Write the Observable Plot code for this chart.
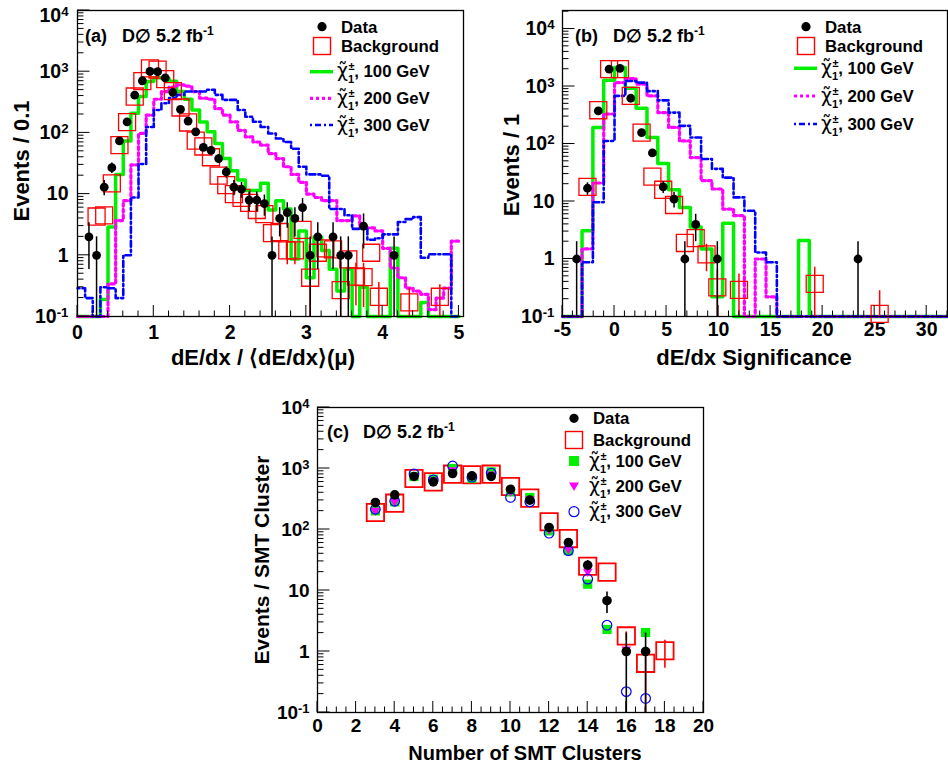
<!DOCTYPE html>
<html><head><meta charset="utf-8">
<script src="https://cdn.jsdelivr.net/npm/d3@7"></script>
<script src="https://cdn.jsdelivr.net/npm/@observablehq/plot@0.6"></script>
<style>
body{margin:0;background:#fff;}
#root{position:relative;width:948px;height:768px;overflow:hidden;background:#fff;}
</style></head>
<body><div id="root"></div>
<script>
// ---------------- DATA ----------------
// Panel (a): dE/dx / <dE/dx>(mu), bins of 0.1
const aEdges = [0,0.1,0.2,0.3,0.4,0.5,0.6,0.7,0.8,0.9,1,1.1,1.2,1.3,1.4,1.5,1.6,1.7,1.8,1.9,2,2.1,2.2,2.3,2.4,2.5,2.6,2.7,2.8,2.9,3,3.1,3.2,3.3,3.4,3.5,3.6,3.7,3.8,3.9,4,4.1,4.2,4.3,4.4,4.5,4.6,4.7,4.8,4.9,5];
const aSig100 = [0,0,0,0.19,2.9,21,74,210,393,690,800,780,700,474,355,237,151,104,67,38,24,17,11.4,11.4,15,5.5,7.8,5.7,0.87,2.5,0.43,2,1.2,0.59,0.26,0.6,0,0.3,0,0,0,1.3,0,0,0,0.17,0,0,0,0];
const aSig200 = [0,0,0,0,0.34,3.7,7.8,30,98,195,355,474,560,610,580,474,370,355,250,195,151,110,86,71,63,46,38,28,21,15.6,10,8.8,7.8,7.8,3.7,3.7,4.4,2.8,2.8,2.5,1.3,0.62,0.43,0.29,0.26,0.23,0.13,0.2,0.29,1.7];
const aSig300 = [0.29,0.2,0,0.3,0.29,0.2,1.0,8.8,31,125,237,305,370,418,474,474,474,506,418,346,346,237,184,152,125,98,81,71,55,28,21,21,20,5.7,5.7,4.5,2.7,2.7,1.8,1.9,2.2,2.2,3.5,3.9,4.2,0.91,1.04,1.04,1.04,0];
const aDataX = [0.15,0.25,0.35,0.45,0.55,0.65,0.75,0.85,0.95,1.05,1.15,1.25,1.35,1.45,1.55,1.65,1.75,1.85,1.95,2.05,2.15,2.25,2.35,2.45,2.55,2.65,2.75,2.85,2.95,3.05,3.15,3.35,3.45,3.55,3.75,4.15];
const aDataY = [2,1,13,27,74,151,413,711,1010,1000,790,457,243,156,104,58,52,38,23,13,12,8,8,7,1,4,5,4,6,1,2,2,1,1,3,1];
const aBgX = [0.25,0.35,0.45,0.55,0.65,0.75,0.85,0.95,1.05,1.15,1.25,1.35,1.45,1.55,1.65,1.75,1.85,1.95,2.05,2.15,2.25,2.35,2.45,2.55,2.65,2.75,2.85,2.95,3.05,3.15,3.25,3.35,3.45,3.55,3.65,3.75,3.85,3.95,4.35,4.75];
const aBgY = [4.3,4.5,15,63,150,393,700,1130,1080,755,480,260,148,75,60,40,20,14,10,8.7,7.2,5.5,4.7,2.3,2.4,1.2,1.2,2.6,0.43,1.1,1.3,1.25,0.27,0.86,0.45,0.44,1.1,0.21,0.17,0.21];
const aBgErr = [0,0,0,0,0,0,0,0,0,0,0,0,0,0,0,0,0,0,0,0,0,0,0,0,0,0.5,0.5,0,0.4,0.3,0,0,0.5,0.3,0.3,0.3,0,0.15,0.12,0.12];

// Panel (b): dE/dx significance
const bEdges = [-5,-4.16,-3.12,-2.08,-1.04,0,1.04,2.08,3.12,4.16,5.2,6.24,7.28,8.32,9.36,10.4,11.44,12.48,13.52,14.56,15.6,16.64,17.68,18.72,19.76,20.8,21.84,22.88,23.92,24.96,26,27.04,28.08,29.12,30.16,31.2,32];
const bSig100 = [0,0,3.1,194,1285,2140,930,420,130,46,16,7.9,3.6,1.5,0.22,4.2,0,0,0,0,0,0,2.1,0,0,0,0,0,0,0,0,0,0,0,0,0];
const bSig200 = [0,0,1.5,21,333,1170,1375,1100,687,352,194,113,58,23,16.5,7.4,5.7,0,1.0,0.22,0,0,0,0,0,0,0,0,0,0,0,0,0,0,0,0];
const bSig300 = [0,0,0.88,9.7,113,687,1250,1170,830,575,352,207,130,55,37,26,11.8,6.9,1.3,0.88,0,0,0,0,0,0,0,0,0,0,0,0,0,0,0,0];
const bDataX = [-3.64,-2.6,-1.56,-0.52,0.52,1.56,2.6,3.64,4.68,5.72,6.76,7.8,9.88,23.4];
const bDataY = [1,17,377,2000,2070,625,158,70,18,11,1,4,1,1];
const bBgX = [-2.6,-1.56,-0.52,0.52,1.56,2.6,3.64,4.68,5.72,6.76,7.8,8.84,9.88,11.96,19.24,25.48];
const bBgY = [18,387,2000,2000,687,158,27,16,8.7,1.9,2.3,1.2,0.32,0.29,0.37,0.111];
const bBgErr = [0,0,0,0,0,0,0,0,0,0,0,0.6,0.32,0.26,0.35,0.17];

// Panel (c): number of SMT clusters
const cDataX = [3,4,5,6,7,8,9,10,11,12,13,14,15,16,17];
const cDataY = [277,370,740,604,828,758,740,458,303,108,61,26,6.8,1,1];
const cBgX = [3,4,5,6,7,8,9,10,11,12,13,14,15,16,17,18];
const cBgY = [190,270,686,604,807,790,807,507,327,134,71,25,20,1.8,0.64,1.03];
const cBgErr = [0,0,0,0,0,0,0,0,0,0,0,0,0,0.3,0.55,0.5];
const c100X = [3,4,5,6,7,8,9,10,11,12,13,14,15,17];
const c100Y = [202,284,740,668,1000,686,880,414,335,95,45,12.7,2.3,2.05];
const c200X = [3,4,5,6,7,8,9,10,11,12,13,14,16];
const c200Y = [205,290,760,640,940,760,800,420,320,100,48,20.5,1.09];
const c300X = [3,4,5,6,7,8,9,10,11,12,13,14,15,16,17];
const c300Y = [215,290,815,650,1100,720,840,335,284,87,45,15.4,2.7,0.22,0.17];

// Texts
const yTickVals = [0.1,1,10,100,1000,10000];
const yTickText = ["10^-1","1","10","10^2","10^3","10^4"];
const legendLabels = ["Data","Background"];
const massLabels = ["100 GeV","200 GeV","300 GeV"];
const lumiText = "D\u2205 5.2 fb";

// ---------------- HELPERS ----------------
const FONT = "'Liberation Sans', Arial, Helvetica, sans-serif";
const GREEN = "#00f000", MAG = "#ff00ff", BLUE = "#0000ff", RED = "#ff0000";
const YMIN = 0.1;
const cl = v => Math.max(v, YMIN);
function steps(edges, vals){
  const p = vals.map((v,i)=>({x: edges[i], y: cl(v)}));
  p.push({x: edges[vals.length], y: cl(vals[vals.length-1])});
  return p;
}
const pts = (xs, ys) => xs.map((x,i)=>({x, y: ys[i]}));
const errs = (xs, ys, es) => xs.map((x,i)=>({x, y1: cl(ys[i]-es[i]), y2: ys[i]+es[i], e: es[i]})).filter(d=>d.e>0);
const sqrtErr = ys => ys.map(v=>Math.sqrt(v));
const triDown = { draw(ctx, size){ const s = Math.sqrt(size/(Math.sqrt(3)/4)); const h = s*Math.sqrt(3)/2; ctx.moveTo(-s/2,-h/3); ctx.lineTo(s/2,-h/3); ctx.lineTo(0,2*h/3); ctx.closePath(); } };

function histMarks(edges, s100, s200, s300){
  return [
    Plot.line(steps(edges, s100), {x:"x", y:"y", curve:"step-after", stroke: GREEN, strokeWidth: 3.5}),
    Plot.line(steps(edges, s200), {x:"x", y:"y", curve:"step-after", stroke: MAG, strokeWidth: 3.2, strokeDasharray: "3,3"}),
    Plot.line(steps(edges, s300), {x:"x", y:"y", curve:"step-after", stroke: BLUE, strokeWidth: 2.6, strokeDasharray: "2,3,6,3"})
  ];
}

function txt(svg, x, y, s, opt={}){
  const t = d3.select(svg).append("text").attr("x", x).attr("y", y)
    .attr("font-family", FONT).attr("font-weight", "bold")
    .attr("font-size", opt.size || 20).attr("text-anchor", opt.anchor || "middle").attr("fill","black").text(s);
  if (opt.rotate) t.attr("transform", `rotate(${opt.rotate},${x},${y})`);
  return t;
}

function tag(svg, x1, x2, y, t){
  const m = txt(svg, x1, y, t, {size: 18, anchor: "start"});
  m.append("tspan").attr("x", x2).text(lumiText);
  m.append("tspan").attr("dy", -7).attr("font-size", 12).text("-1");
}

// chi-tilde with +- superscript and 1 subscript, all in a single text element
function chiLabel(g, x, base, mass){
  const t = g.append("text").attr("x", x).attr("y", base);
  t.append("tspan").attr("font-family","'DejaVu Sans', sans-serif").attr("font-weight","normal").attr("font-size",19).text("\u03c7\u0303");
  t.append("tspan").attr("font-size",11).attr("dx",0.5).attr("dy",-7).text("\u00b1");
  t.append("tspan").attr("font-size",11).attr("dx",-6.5).attr("dy",13).text("1");
  t.append("tspan").attr("font-size",16.8).attr("dy",-6).text(", " + mass);
}

function legend(svg, L){
  const g = d3.select(svg).append("g").attr("font-family", FONT).attr("font-weight","bold")
    .attr("font-size", 16.8).attr("text-anchor","start").attr("fill","black");
  g.append("circle").attr("cx", L.sx).attr("cy", L.rows[0]).attr("r", 4.6).attr("fill","black");
  g.append("text").attr("x", L.tx).attr("y", L.rows[0]+6).text(legendLabels[0]);
  g.append("rect").attr("x", L.sx-8.5).attr("y", L.rows[1]-8.5).attr("width",17).attr("height",17)
    .attr("fill","none").attr("stroke",RED).attr("stroke-width",1.4);
  g.append("text").attr("x", L.tx).attr("y", L.rows[1]+6).text(legendLabels[1]);
  const cols = [GREEN, MAG, BLUE];
  for (let i=0;i<3;i++){
    const y = L.rows[2+i];
    if (L.lines){
      const ln = g.append("line").attr("x1", L.sx-12).attr("x2", L.sx+11).attr("y1", y).attr("y2", y).attr("stroke", cols[i]);
      if (i===0) ln.attr("stroke-width",3.5);
      if (i===1) ln.attr("stroke-width",3.2).attr("stroke-dasharray","3,3");
      if (i===2) ln.attr("stroke-width",2.6).attr("stroke-dasharray","2,3,6,3");
    } else {
      if (i===0) g.append("rect").attr("x",L.sx-5).attr("y",y-5).attr("width",10).attr("height",10).attr("fill",GREEN);
      if (i===1) g.append("path").attr("d",`M${L.sx-5},${y-3.5}L${L.sx+5},${y-3.5}L${L.sx},${y+5}Z`).attr("fill",MAG);
      if (i===2) g.append("circle").attr("cx",L.sx).attr("cy",y).attr("r",5).attr("fill","none").attr("stroke",BLUE).attr("stroke-width",1.2);
    }
    chiLabel(g, L.tx-4, y+5.5, massLabels[i]);
  }
}

function buildPanel(cfg){
  const svg = Plot.plot({
    width: 948, height: 768,
    marginLeft: cfg.L, marginRight: 948 - cfg.R, marginTop: cfg.T, marginBottom: 768 - cfg.B,
    style: {fontFamily: FONT, fontWeight: "bold", fontSize: cfg.tickFont + "px", background: "transparent", overflow: "visible"},
    x: {domain: cfg.xDomain},
    y: {type: "log", domain: cfg.yDomain},
    marks: [
      Plot.axisX({ticks: cfg.xTicks, tickSize: 0, tickPadding: cfg.xPad, tickFormat: d => String(d), label: null}),
      Plot.axisY({ticks: yTickVals, tickSize: 0, tickPadding: cfg.yPad, tickFormat: d => yTickText[yTickVals.indexOf(d)], label: null}),
      ...cfg.marks,
      Plot.frame({stroke: "black", strokeWidth: 1.3})
    ]
  });
  svg.style.position = "absolute"; svg.style.left = "0px"; svg.style.top = "0px";
  // superscripts in tick labels
  d3.select(svg).selectAll("text, tspan").each(function(){
    if (this.childElementCount === 0 && this.textContent.includes("^")){
      const [b, e] = this.textContent.split("^");
      this.textContent = b;
      d3.select(this).append("tspan").attr("dy","-0.45em").attr("font-size","0.68em").text(e);
      if (cfg.topShift && e === "4") {
        const el = this.tagName.toLowerCase() === "tspan" ? this.parentNode : this;
        const tr = el.getAttribute("transform") || "";
        el.setAttribute("transform", (tr + ` translate(0,${cfg.topShift})`).trim());
      }
    }
  });
  // inward ticks from the plot's own scales
  const xs = svg.scale("x"), ys = svg.scale("y");
  const fx = typeof xs.apply === "function" ? v => xs.apply(v) : d3.scaleLinear(xs.domain, xs.range);
  const fy = typeof ys.apply === "function" ? v => ys.apply(v) : d3.scaleLog(ys.domain, ys.range);
  const g = d3.select(svg).append("g").attr("stroke","black").attr("stroke-width",1);
  const xMin = cfg.xDomain[0], xMax = cfg.xDomain[1];
  for (let v = cfg.xTicks[0]; v <= xMax + 1e-9; v += cfg.xMinor){
    const vv = Math.round(v*1000)/1000;
    if (vv < xMin) continue;
    const major = cfg.xTicks.some(t => Math.abs(t - vv) < 1e-6);
    const px = fx(vv);
    g.append("line").attr("x1",px).attr("x2",px).attr("y1",cfg.B).attr("y2",cfg.B-(major?11:5.5));
  }
  const yMax = cfg.yDomain[1];
  for (const d of yTickVals){
    for (let m=1;m<=9;m++){
      const v = d*m; if (v > yMax*1.0001 || v < YMIN*0.9999) continue;
      const py = fy(v);
      g.append("line").attr("x1",cfg.L).attr("x2",cfg.L+(m===1?12.5:6.5)).attr("y1",py).attr("y2",py);
    }
  }
  document.getElementById("root").appendChild(svg);
  return svg;
}

// ---------------- PANEL (a) ----------------
const svgA = buildPanel({
  L: 77, R: 463, T: 10, B: 316, xDomain: [0, 5.06], yDomain: [0.1, 1e4],
  xTicks: [0,1,2,3,4,5], xMinor: 0.2, xPad: 9, yPad: 9, tickFont: 19.5, topShift: 5,
  marks: [
    ...histMarks(aEdges, aSig100, aSig200, aSig300),
    Plot.ruleX(errs(aBgX, aBgY, aBgErr), {x:"x", y1:"y1", y2:"y2", stroke: RED, strokeWidth: 1.5}),
    Plot.dot(pts(aBgX, aBgY), {x:"x", y:"y", symbol:"square", r: 9.6, stroke: RED, fill: "none", strokeWidth: 1.3}),
    Plot.ruleX(errs(aDataX, aDataY, sqrtErr(aDataY)), {x:"x", y1:"y1", y2:"y2", stroke: "black", strokeWidth: 1.5}),
    Plot.dot(pts(aDataX, aDataY), {x:"x", y:"y", r: 4.4, fill: "black"})
  ]
});
txt(svgA, 263, 365, "dE/dx / \u27e8dE/dx\u27e9(\u03bc)", {size: 22});
txt(svgA, 29, 161, "Events / 0.1", {size: 22, rotate: -90});
tag(svgA, 85, 122, 42, "(a)");
legend(svgA, {sx: 322, tx: 341, rows: [26.7, 46, 71.7, 98.3, 125], lines: true});

// ---------------- PANEL (b) ----------------
const svgB = buildPanel({
  L: 562, R: 947, T: 10, B: 316, xDomain: [-5, 32], yDomain: [0.1, 2.1e4],
  xTicks: [-5,0,5,10,15,20,25,30], xMinor: 1, xPad: 6, yPad: 8, tickFont: 19.5,
  marks: [
    ...histMarks(bEdges, bSig100, bSig200, bSig300),
    Plot.ruleX(errs(bBgX, bBgY, bBgErr), {x:"x", y1:"y1", y2:"y2", stroke: RED, strokeWidth: 1.5}),
    Plot.dot(pts(bBgX, bBgY), {x:"x", y:"y", symbol:"square", r: 9.6, stroke: RED, fill: "none", strokeWidth: 1.3}),
    Plot.ruleX(errs(bDataX, bDataY, sqrtErr(bDataY)), {x:"x", y1:"y1", y2:"y2", stroke: "black", strokeWidth: 1.5}),
    Plot.dot(pts(bDataX, bDataY), {x:"x", y:"y", r: 4.4, fill: "black"})
  ]
});
txt(svgB, 754, 365, "dE/dx Significance", {size: 22});
txt(svgB, 519, 165, "Events / 1", {size: 22, rotate: -90});
tag(svgB, 575, 613, 42, "(b)");
legend(svgB, {sx: 806, tx: 825, rows: [26.7, 46, 68.3, 96, 124], lines: true});

// ---------------- PANEL (c) ----------------
const svgC = buildPanel({
  L: 317, R: 703, T: 407, B: 712, xDomain: [0, 20], yDomain: [0.1, 1e4],
  xTicks: [0,2,4,6,8,10,12,14,16,18,20], xMinor: 0.5, xPad: 6, yPad: 8, tickFont: 19,
  marks: [
    Plot.ruleX(errs(cBgX, cBgY, cBgErr), {x:"x", y1:"y1", y2:"y2", stroke: RED, strokeWidth: 1.6}),
    Plot.dot(pts(cBgX, cBgY), {x:"x", y:"y", symbol:"square", r: 9.8, stroke: RED, fill: "none", strokeWidth: 1.8}),
    Plot.dot(pts(c100X, c100Y), {x:"x", y:"y", symbol:"square", r: 5.2, fill: GREEN}),
    Plot.dot(pts(c200X, c200Y), {x:"x", y:"y", symbol: triDown, r: 3.6, fill: MAG}),
    Plot.dot(pts(c300X, c300Y), {x:"x", y:"y", r: 4.8, fill: "none", stroke: BLUE, strokeWidth: 1.2}),
    Plot.ruleX(errs(cDataX, cDataY, sqrtErr(cDataY)), {x:"x", y1:"y1", y2:"y2", stroke: "black", strokeWidth: 1.6}),
    Plot.dot(pts(cDataX, cDataY), {x:"x", y:"y", r: 4.8, fill: "black"})
  ]
});
txt(svgC, 525, 760, "Number of SMT Clusters", {size: 20});
txt(svgC, 269, 560, "Events / SMT Cluster", {size: 21, rotate: -90});
tag(svgC, 327, 363, 438, "(c)");
legend(svgC, {sx: 574, tx: 593, rows: [418.3, 440, 461, 486, 511.7], lines: false});
</script>
</body></html>
